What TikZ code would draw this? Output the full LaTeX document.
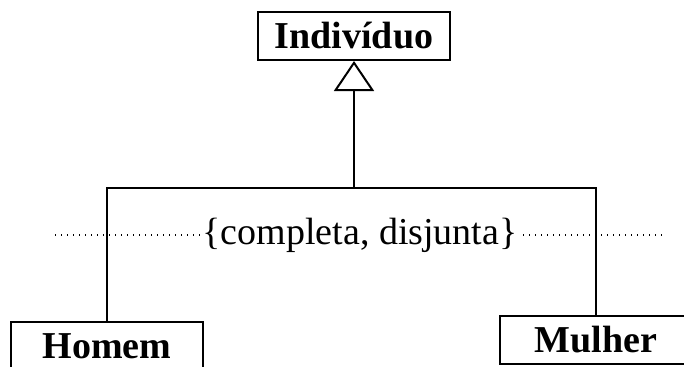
\documentclass[tikz,border=0pt]{standalone}
\usepackage{fontspec}
\setmainfont{Liberation Serif}
\usetikzlibrary{arrows.meta}
\usetikzlibrary{positioning}

\begin{document}
\begin{tikzpicture}[x=.5pt,y=-.5pt,line width=1pt,
  heranca/.style={-{Triangle[open,length=15pt,width=20pt,line width=1pt]}}]
	\tikzstyle{classe}=[draw, rectangle, minimum width=96pt, minimum height=24pt, inner sep=0pt, font=\fontsize{19}{22}\selectfont\bfseries]
	\tikzstyle{rotulo}=[fill=white, inner sep=1pt, font=\fontsize{19}{22}\selectfont]
	\useasboundingbox (0,0) rectangle (684,366);
	\node[classe] 	(individuo) at (354,36) 	{Indivíduo};
	\node[classe] 	(homem) at (107,346) 		{Homem};
	\node[classe] 	(mulher) at (596,340) 		{Mulher};
	\coordinate (juncao) at (354,188);
	\coordinate (tracoE) at (55,235);
	\coordinate (tracoD) at (665,235);
	% restricao da generalizacao
	\draw[line width=.6pt, dash pattern=on .6pt off 2.4pt] (tracoE) -- (tracoD);
	\node[rotulo] 	(restricao) at (360,235) 	{\{completa, disjunta\}};
	\draw[heranca] (homem.north) |- (juncao) -- (individuo.south);
	\draw (mulher.north) |- (juncao);
\end{tikzpicture}
\end{document}
